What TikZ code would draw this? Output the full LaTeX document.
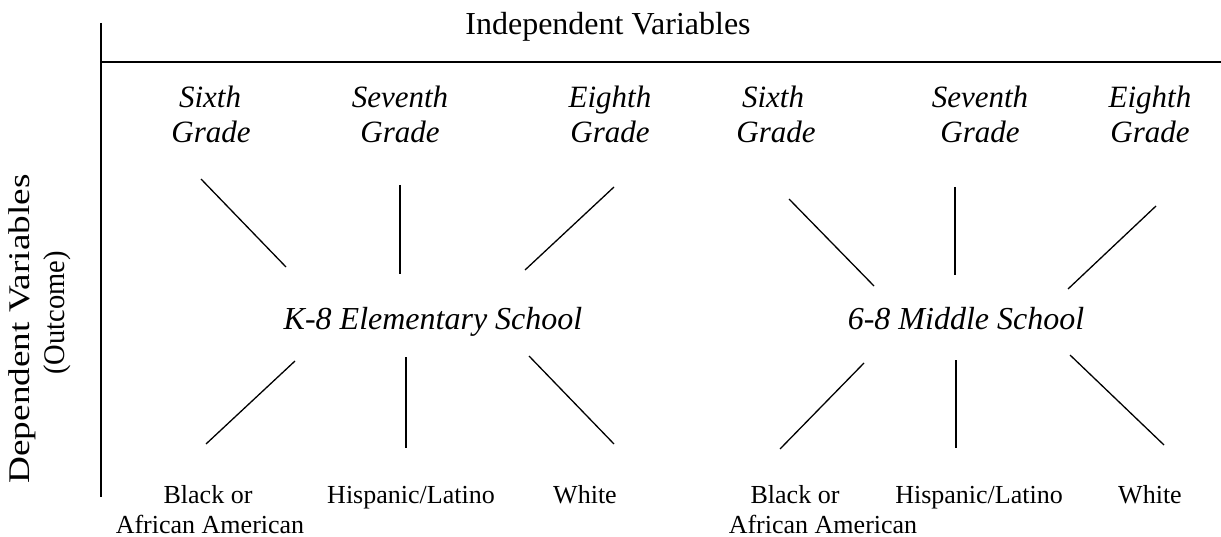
\documentclass[tikz,border=0pt]{standalone}
\usepackage{fontspec}
\setmainfont{Liberation Serif}
\begin{document}
\begin{tikzpicture}[x=1pt,y=-1pt,
  axis/.style={line width=1.6pt},
  spoke/.style={line width=1.3pt},
  title/.style={font=\fontsize{32}{36}\selectfont, inner sep=0pt, anchor=base},
  sidelabel/.style={font=\fontsize{30}{35}\selectfont, inner sep=0pt, rotate=90},
  grade/.style={font=\fontsize{31}{36}\selectfont\itshape, inner sep=0pt, anchor=base},
  school/.style={font=\fontsize{32}{36}\selectfont\itshape, inner sep=0pt, anchor=base},
  group/.style={font=\fontsize{26}{30}\selectfont, inner sep=0pt, anchor=base}]
\useasboundingbox (0,0) rectangle (1221,537);
% axes
\coordinate (vtop) at (101,23);
\coordinate (vbot) at (101,497);
\coordinate (hleft) at (101,62);
\coordinate (hright) at (1221,62);
\draw[axis] (vtop) -- (vbot);
\draw[axis] (hleft) -- (hright);
\node[title] (indep) at (608,35) {Independent Variables};
\node[sidelabel] (depa) at (22,329) {\scalebox{1.24}[1]{Dependent Variables}};
\node[sidelabel] (depb) at (57,313) {\scalebox{0.95}[1]{(Outcome)}};
% grade labels
\node[grade] (g1a) at (210,108) {Sixth};
\node[grade] (g1b) at (211,143) {Grade};
\node[grade] (g2a) at (400,108) {Seventh};
\node[grade] (g2b) at (400,143) {Grade};
\node[grade] (g3a) at (610,108) {Eighth};
\node[grade] (g3b) at (610,143) {Grade};
\node[grade] (g4a) at (773,108) {Sixth};
\node[grade] (g4b) at (776,143) {Grade};
\node[grade] (g5a) at (980,108) {Seventh};
\node[grade] (g5b) at (980,143) {Grade};
\node[grade] (g6a) at (1150,108) {Eighth};
\node[grade] (g6b) at (1150,143) {Grade};
% school labels
\node[school] (k8) at (433,330) {K-8 Elementary School};
\node[school] (ms) at (966,330) {6-8 Middle School};
% group labels
\node[group] (b1a) at (208,503) {Black or};
\node[group] (b1b) at (210,533) {African American};
\node[group] (h1) at (411,503) {Hispanic/Latino};
\node[group] (w1) at (585,503) {White};
\node[group] (b2a) at (795,503) {Black or};
\node[group] (b2b) at (823,533) {African American};
\node[group] (h2) at (979,503) {Hispanic/Latino};
\node[group] (w2) at (1150,503) {White};
% spokes left
\coordinate (a1) at (201,179); \coordinate (a2) at (286,267);
\coordinate (b1) at (400,185); \coordinate (b2) at (400,274);
\coordinate (c1) at (614,187); \coordinate (c2) at (525,270);
\coordinate (d1) at (295,361); \coordinate (d2) at (206,444);
\coordinate (e1) at (406,357); \coordinate (e2) at (406,448);
\coordinate (f1) at (529,356); \coordinate (f2) at (614,444);
% spokes right
\coordinate (p1) at (789,199); \coordinate (p2) at (874,286);
\coordinate (q1) at (955,187); \coordinate (q2) at (955,275);
\coordinate (r1) at (1156,206); \coordinate (r2) at (1068,289);
\coordinate (s1) at (864,363); \coordinate (s2) at (780,449);
\coordinate (t1) at (956,360); \coordinate (t2) at (956,448);
\coordinate (u1) at (1070,355); \coordinate (u2) at (1164,445);
\foreach \i in {a,b,c,d,e,f,p,q,r,s,t,u}
  \draw[spoke] (\i1) -- (\i2);
\end{tikzpicture}
\end{document}
